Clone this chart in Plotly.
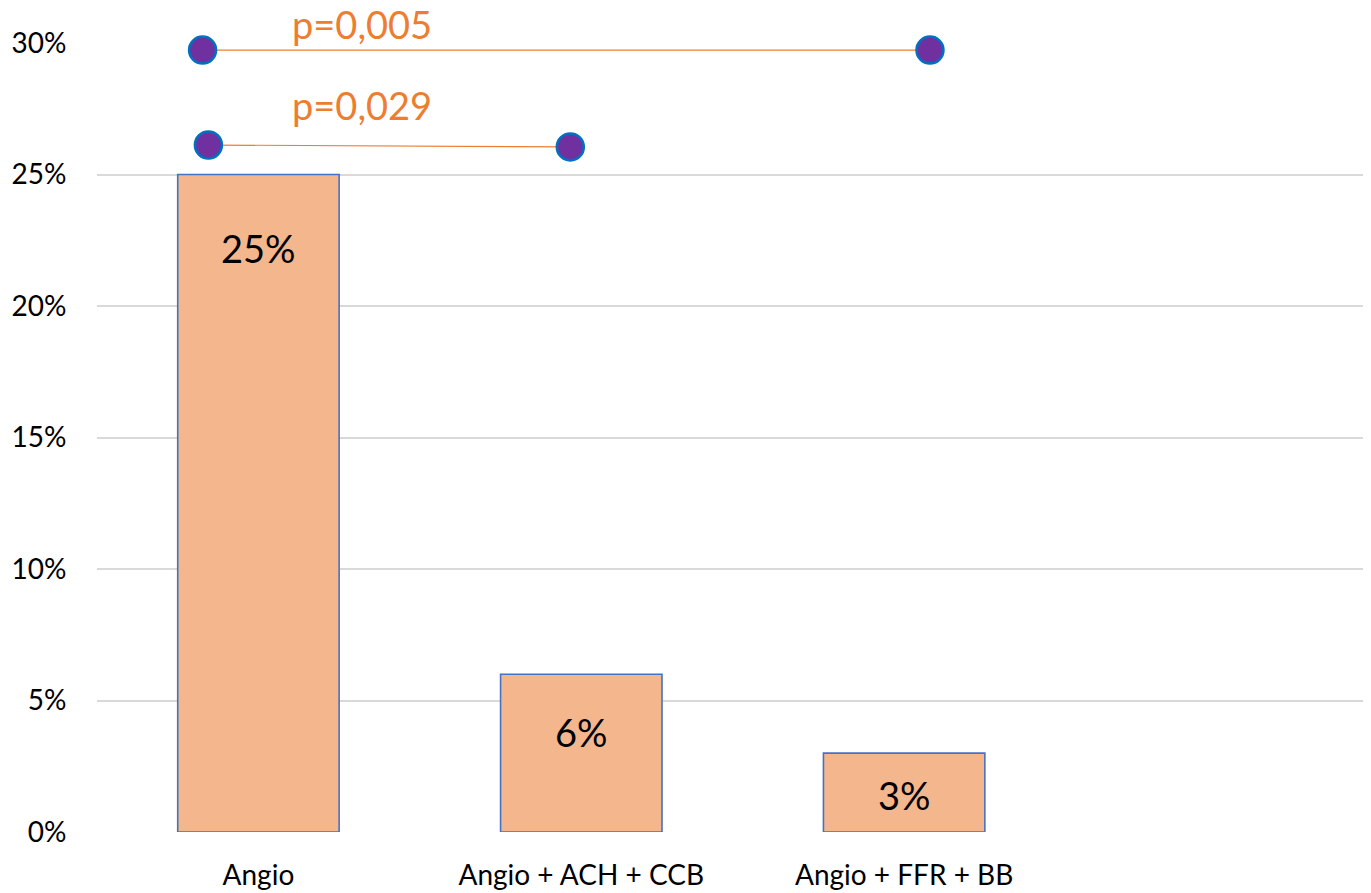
import plotly.graph_objects as go

categories = ["Angio", "Angio + ACH + CCB", "Angio + FFR + BB"]
values = [25, 6, 3]
value_labels = ["25%", "6%", "3%"]
label_y = [22.2, 3.8, 1.4]

y_ticks = [0, 5, 10, 15, 20, 25, 30]
y_tick_labels = ["0%", "5%", "10%", "15%", "20%", "25%", "30%"]

# significance brackets
sig_x = [[-0.173, 2.08], [-0.155, 0.966]]
sig_y = [[29.73, 29.73], [26.12, 26.05]]
sig_text = ["p=0,005", "p=0,029"]
sig_text_x = [0.32, 0.32]
sig_text_y = [30.72, 27.65]

Y_MAX = 30
FONT = "Lato, 'Open Sans', sans-serif"

fig = go.Figure()
fig.add_trace(go.Bar(
    x=list(range(len(categories))), y=values, width=0.5,
    marker=dict(color="#F4B68C", line=dict(color="#4472C4", width=1.6)),
    hoverinfo="skip", showlegend=False,
))

for xs, ys in zip(sig_x, sig_y):
    fig.add_trace(go.Scatter(
        x=xs, y=ys, mode="lines+markers",
        line=dict(color="#ED7D31", width=1.2),
        marker=dict(size=27, color="#7030A0", line=dict(color="#0070C0", width=2.5)),
        cliponaxis=False, showlegend=False, hoverinfo="skip",
    ))

annotations = []
for i, (t, ly) in enumerate(zip(value_labels, label_y)):
    annotations.append(dict(x=i, y=ly, text=t, showarrow=False,
                            font=dict(family=FONT, size=38, color="#000000")))
for t, tx, ty in zip(sig_text, sig_text_x, sig_text_y):
    annotations.append(dict(x=tx, xref="x", y=ty / Y_MAX, yref="paper", text=t,
                            showarrow=False, xanchor="center", yanchor="middle",
                            font=dict(family=FONT, size=38, color="#ED7D31")))

fig.update_layout(
    width=1371, height=893,
    margin=dict(l=89, r=8, t=35, b=69, autoexpand=False),
    paper_bgcolor="white", plot_bgcolor="white",
    font=dict(family=FONT, size=28, color="#000000"),
    annotations=annotations,
    xaxis=dict(range=[-0.5, 3.446], tickvals=list(range(len(categories))),
               ticktext=categories, showgrid=False, zeroline=False,
               ticks="outside", ticklen=18, tickcolor="rgba(0,0,0,0)",
               tickfont=dict(size=28), showline=False, automargin=False),
    yaxis=dict(range=[0, Y_MAX], tickvals=y_ticks, ticktext=y_tick_labels,
               showgrid=True, gridcolor="#D9D9D9", gridwidth=1.5,
               zeroline=False, ticks="outside", ticklen=24,
               tickcolor="rgba(0,0,0,0)", tickfont=dict(size=28),
               automargin=False),
    bargap=0.5,
)

fig.write_html("out.html")
